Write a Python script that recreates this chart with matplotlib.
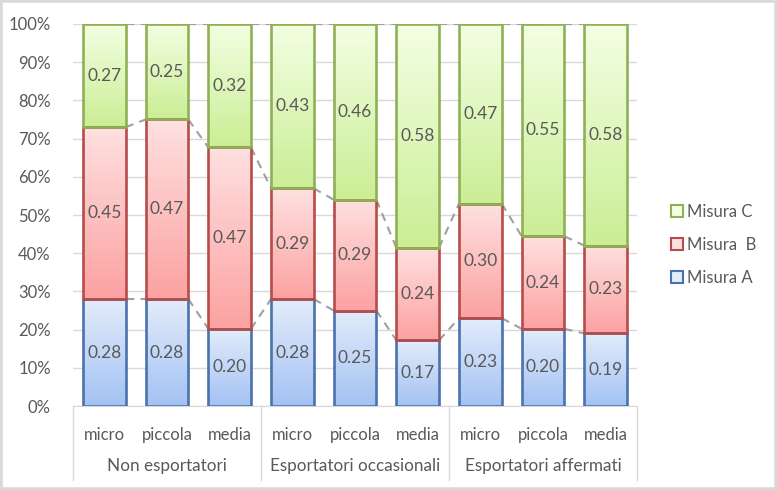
import numpy as np
import matplotlib
matplotlib.use("Agg")
import matplotlib.pyplot as plt
from matplotlib.colors import LinearSegmentedColormap
from matplotlib.patches import Rectangle
from matplotlib.lines import Line2D

# ---- data ----
groups = ["Non esportatori", "Esportatori occasionali", "Esportatori affermati"]
sizes = ["micro", "piccola", "media"]
misura_a = [0.28, 0.28, 0.20, 0.28, 0.25, 0.17, 0.23, 0.20, 0.19]
misura_b = [0.45, 0.47, 0.47, 0.29, 0.29, 0.24, 0.30, 0.24, 0.23]
misura_c = [0.27, 0.25, 0.32, 0.43, 0.46, 0.58, 0.47, 0.55, 0.58]
series_names = ["Misura A", "Misura  B", "Misura C"]
yticks = [0, 10, 20, 30, 40, 50, 60, 70, 80, 90, 100]

plt.rcParams['font.family'] = ['Lato', 'DejaVu Sans']
txt = '#595959'

fig = plt.figure(figsize=(7.77, 4.90), dpi=100)
ax = fig.add_axes([73/777, 1-406/490, (637-73)/777, (406-24)/490])

raw = np.array([misura_a, misura_b, misura_c])
pct = raw / raw.sum(axis=0) * 100
n = pct.shape[1]
x = np.arange(n)
width = 0.68

edges = ['#4a72ad', '#b64c4a', '#8fb055']
grads = [('#a4c2f3', '#e2ecfb'), ('#fca2a2', '#ffe0e0'), ('#cbee96', '#f3ffe2')]

bottom = np.zeros(n)
tops = []
for k in range(3):
    bars = ax.bar(x, pct[k], width, bottom=bottom, facecolor='none',
                  edgecolor=edges[k], linewidth=1.9, zorder=3)
    cmap = LinearSegmentedColormap.from_list('g%d' % k, list(grads[k]))
    for b, v, raw_v in zip(bars, pct[k], raw[k]):
        x0, y0, w, h = b.get_x(), b.get_y(), b.get_width(), b.get_height()
        grad = np.linspace(0, 1, 64).reshape(-1, 1)
        im = ax.imshow(grad, cmap=cmap, origin='lower', aspect='auto',
                       extent=(x0, x0 + w, y0, y0 + h), zorder=2,
                       interpolation='bilinear')
        im.set_clip_path(b)
        ax.text(x0 + w/2, y0 + h/2, f"{raw_v:.2f}", ha='center', va='center',
                fontsize=12.5, color=txt, zorder=4)
    bottom = bottom + pct[k]
    tops.append(bottom.copy())

# series lines
for t in tops:
    for i in range(n - 1):
        ax.plot([x[i] + width/2, x[i+1] - width/2], [t[i], t[i+1]],
                color='#a0a0a0', linewidth=1.5, linestyle=(0, (4, 3)), zorder=1)

ax.set_xlim(-0.5, n - 0.5)
ax.set_ylim(0, 100)
ax.set_yticks(yticks)
ax.set_yticklabels([f"{v}%" for v in yticks], fontsize=12, color=txt)
ax.yaxis.grid(True, color='#d9d9d9', linewidth=1)
ax.set_axisbelow(True)
ax.tick_params(axis='y', length=0, pad=16)
ax.tick_params(axis='x', length=0, pad=15)
for s in ['top', 'right', 'left']:
    ax.spines[s].set_visible(False)
ax.spines['bottom'].set_color('#d9d9d9')
ax.set_xticks(x)
ax.set_xticklabels(sizes * len(groups), fontsize=12, color=txt)

# group labels and separators
for g, name in enumerate(groups):
    ax.text(g*3 + 1, -15.8, name, ha='center', va='center', fontsize=12.3,
            color=txt, transform=ax.transData, clip_on=False)
for g in range(len(groups) + 1):
    ax.plot([g*3 - 0.5, g*3 - 0.5], [0, -19.5], color='#d9d9d9', linewidth=1,
            clip_on=False, transform=ax.transData)

# legend
handles = [Line2D([], [], marker='s', linestyle='none', markersize=9,
                  markerfacecolor=grads[k][1], markeredgecolor=edges[k],
                  markeredgewidth=1.5) for k in range(3)]
leg = fig.legend(handles[::-1], series_names[::-1], loc='center left',
                 bbox_to_anchor=(654/777, 1-245/490), frameon=False,
                 fontsize=12, labelcolor=txt, handletextpad=0.1,
                 labelspacing=1.0, handlelength=1.0)

# outer border
fig.patches.append(Rectangle((0, 0), 1, 1, transform=fig.transFigure,
                             fill=False, edgecolor='#d9d9d9', linewidth=4))

fig.savefig('out.png', dpi=100)
